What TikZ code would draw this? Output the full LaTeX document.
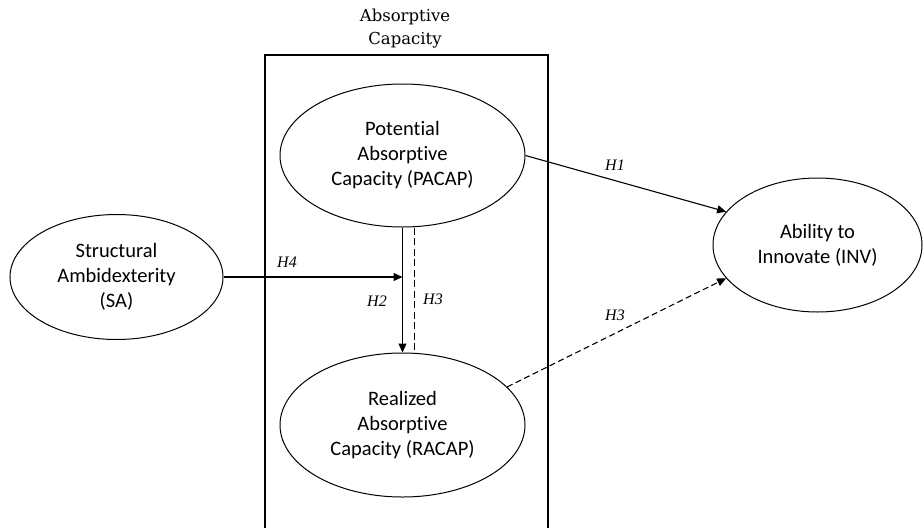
\documentclass[tikz,border=0pt]{standalone}
\usepackage{fontspec}
\setmainfont{Carlito}[Ligatures={NoCommon}]
\newfontfamily\titlefont{DejaVu Serif}
\newfontfamily\hypfont{Liberation Serif}
\usetikzlibrary{arrows.meta,shapes.geometric}

\begin{document}
\begin{tikzpicture}[x=1pt,y=-1pt,
  construct/.style={ellipse, draw=black, line width=1pt, inner sep=0pt, align=center, font=\fontsize{20.5}{25}\selectfont},
  hyp/.style={font=\hypfont\itshape\fontsize{16}{18}\selectfont},
  link/.style={line width=1.1pt, -{Triangle[length=9pt, width=8pt]}}]
\useasboundingbox (0,0) rectangle (924,528);
\draw[line width=1.2pt] (265,528) -- (265,55) -- (548,55) -- (548,528);
\node[align=center, font=\titlefont\fontsize{16.5}{23}\selectfont] (title) at (405,28.5) {Absorptive\\Capacity};
\node[construct, minimum width=245, minimum height=143] (pacap) at (402.5,155.5) {Potential\\Absorptive\\Capacity (PACAP)};
\node[construct, minimum width=245, minimum height=144] (racap) at (402.5,425) {Realized\\Absorptive\\Capacity (RACAP)};
\node[construct, minimum width=213, minimum height=125] (sa) at (116.5,277) {Structural\\Ambidexterity\\(SA)};
\node[construct, minimum width=209, minimum height=134] (inv) at (817.5,245) {Ability to\\Innovate (INV)};
\coordinate (h4end) at (pacap.south |- sa.east);
\draw[link] (pacap.east) -- (inv.160);
\draw[link, dash pattern=on 6pt off 3.5pt] (racap.20) -- (inv.200);
\draw[link] (pacap.south) -- (racap.north);
\draw[line width=1pt, dash pattern=on 7pt off 3.5pt] ([xshift=11.5pt]pacap.south) -- ([xshift=11.5pt]racap.north);
\draw[link] (sa.east) -- (h4end);
\node[hyp] (h1) at (615,165) {H1};
\node[hyp] (h3b) at (615,315) {H3};
\node[hyp] (h4) at (287,262) {H4};
\node[hyp] (h2) at (377,301) {H2};
\node[hyp] (h3a) at (433,299) {H3};
\end{tikzpicture}
\end{document}
